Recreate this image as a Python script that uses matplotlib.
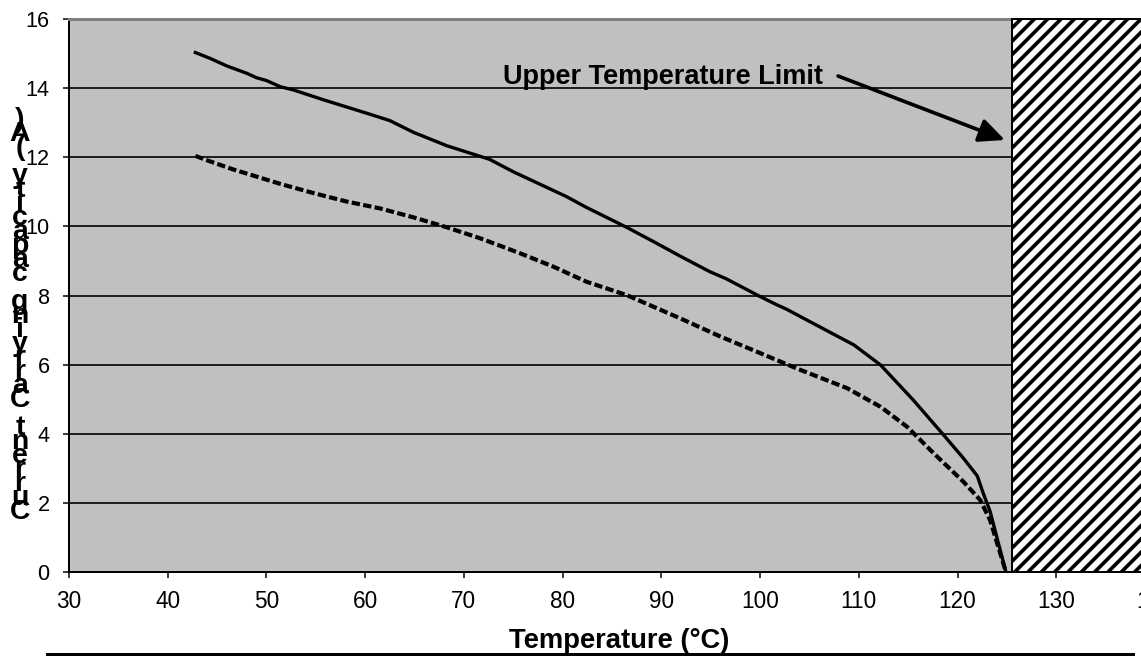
import numpy as np
import matplotlib
matplotlib.use("Agg")
import matplotlib.pyplot as plt
from matplotlib.lines import Line2D

plt.rcParams['font.family'] = ['Liberation Sans', 'DejaVu Sans']
plt.rcParams['hatch.linewidth'] = 2.2
plt.rcParams['lines.scale_dashes'] = False

# curve data
solid_x = [42.8, 44.3, 46.0, 48.0, 49.0, 50.0, 51.4, 52.7, 55.8, 60.2, 62.5, 64.9, 68.3,
           72.6, 75.0, 80.4, 82.4, 86.5, 89.2, 91.9, 94.9, 96.6, 100.0, 101.7, 102.7,
           105.4, 109.5, 112.2, 115.5, 118.6, 120.6, 122.0, 122.6, 123.3, 124.9]
solid_y = [15.03, 14.86, 14.64, 14.43, 14.30, 14.22, 14.04, 13.95, 13.66, 13.27, 13.06, 12.72, 12.33,
           11.94, 11.58, 10.86, 10.55, 9.97, 9.56, 9.14, 8.69, 8.48, 7.97, 7.73, 7.60,
           7.19, 6.57, 5.99, 4.98, 3.96, 3.29, 2.78, 2.28, 1.75, 0.0]

dashed_x = [42.8, 43.9, 46.6, 49.0, 51.4, 54.8, 58.1, 61.5, 64.9, 68.3, 71.6, 75.7, 79.1,
            82.4, 86.5, 91.9, 96.0, 99.7, 103.7, 108.8, 112.2, 114.9, 117.6, 120.6,
            122.3, 123.3, 124.9]
dashed_y = [12.04, 11.92, 11.65, 11.44, 11.23, 10.96, 10.72, 10.52, 10.26, 9.97, 9.66, 9.22, 8.83,
            8.40, 8.01, 7.34, 6.81, 6.37, 5.89, 5.32, 4.78, 4.20, 3.43, 2.61,
            2.08, 1.50, 0.0]

upper_limit = 125.55
x_ticks = list(range(30, 150, 10))
y_ticks = list(range(0, 18, 2))
ylabel_text = "Current Carrying capacity (A)"
xlabel_text = "Temperature (°C)"
note_text = "Upper Temperature Limit"

dpi = 120
fig = plt.figure(figsize=(1141 / dpi, 656 / dpi), dpi=dpi)
ax = fig.add_axes([69 / 1141, 1 - 572 / 656, (1155 - 69) / 1141, 553 / 656])
ax.set_facecolor('#c0c0c0')

ax.plot(solid_x, solid_y, color='black', lw=2.0, solid_joinstyle='round')
ax.plot(dashed_x, dashed_y, color='black', lw=2.5, dashes=(5.0, 2.0))

ax.axvspan(upper_limit, 140, facecolor='white', edgecolor='black', hatch='///',
           lw=1.2, zorder=3, clip_on=False)

ax.set_xlim(30, 140)
ax.set_ylim(0, 16)
ax.set_xticks(x_ticks)
ax.set_yticks(y_ticks)
ax.yaxis.grid(True, color='black', lw=1.0)
ax.tick_params(axis='both', direction='out', length=3.6, width=0.9)
ax.tick_params(axis='y', pad=8, labelsize=13)
ax.tick_params(axis='x', pad=7, labelsize=13.5)

for s in ['left', 'bottom']:
    ax.spines[s].set_color('black')
    ax.spines[s].set_linewidth(1.2)
ax.spines['top'].set_color('#808080')
ax.spines['top'].set_linewidth(1.8)
ax.spines['right'].set_visible(False)

ax.set_xlabel(xlabel_text, fontsize=16.4, fontweight='bold')
ax.xaxis.set_label_coords((619 - 69) / (1155 - 69), (572 - 628) / 553)

# y label: letters stacked, reversed
chars = ylabel_text[::-1]
ys = np.linspace(120, 512, len(chars))
for c, yp in zip(chars, ys):
    fig.text(20 / 1141, 1 - yp / 656, c, ha='center', va='center',
             fontsize=17, fontweight='bold')

ax.text(74.0, 14.12, note_text, fontsize=16.3, fontweight='bold', va='baseline')
ax.annotate('', xy=(124.8, 12.5), xytext=(107.9, 14.35),
            arrowprops=dict(arrowstyle='-|>,head_length=1.3,head_width=0.6',
                            color='black', lw=2.2, shrinkA=0, shrinkB=0,
                            mutation_scale=10))

fig.add_artist(Line2D([47 / 1141, 1133 / 1141], [2 / 656, 2 / 656],
                      color='black', lw=1.8))

fig.savefig('out.png', dpi=dpi)
